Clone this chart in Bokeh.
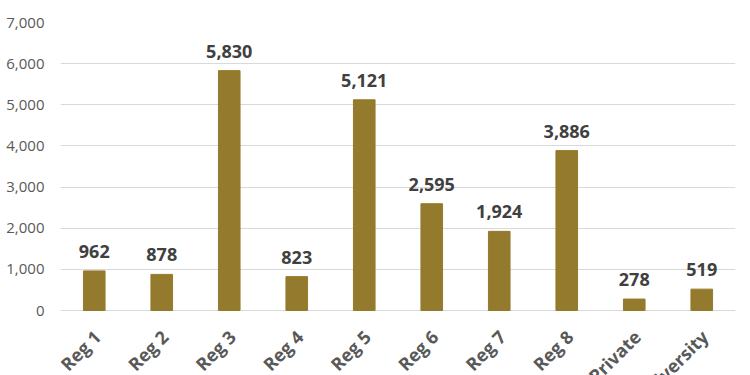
import math
from bokeh.plotting import figure
from bokeh.models import ColumnDataSource, NumeralTickFormatter, FixedTicker, LabelSet, Range1d
from bokeh.core.properties import value
from bokeh.embed import file_html
from bokeh.resources import INLINE

categories = ["Reg 1", "Reg 2", "Reg 3", "Reg 4", "Reg 5", "Reg 6", "Reg 7", "Reg 8", "Private", "University"]
values = [962, 878, 5830, 823, 5121, 2595, 1924, 3886, 278, 519]
y_ticks = [0, 1000, 2000, 3000, 4000, 5000, 6000, 7000]

labels = [f"{v:,}" for v in values]
zeros = [0] * len(categories)
src = ColumnDataSource(dict(cat=categories, val=values, lab=labels, zero=zeros))

H = 375
TOP = 22
ZERO_Y = 310  # pixel row of the zero line
y_max = 7000
y_min = -y_max * (H - ZERO_Y) / (ZERO_Y - TOP)

p = figure(x_range=categories, y_range=Range1d(y_min, y_max), width=742, height=H,
           output_backend="svg", toolbar_location=None,
           min_border_left=60, min_border_right=7, min_border_top=TOP, min_border_bottom=0)
p.outline_line_color = None
p.background_fill_color = "white"

p.vbar(x="cat", top="val", bottom=0, width=0.32, source=src, color="#947A2C")

lbl = LabelSet(x="cat", y="val", text="lab", source=src, text_align="center",
               text_baseline="alphabetic", y_offset=13, text_font=value("Open Sans"),
               text_font_size="18px", text_font_style="bold", text_color="#404040")
p.add_layout(lbl)

cat_lbl = LabelSet(x="cat", y="zero", text="cat", source=src, text_align="right",
                   text_baseline="middle", angle=math.pi / 4, x_offset=3, y_offset=-23,
                   text_font=value("Open Sans"), text_font_size="18px",
                   text_font_style="bold", text_color="#595959")
p.add_layout(cat_lbl)

p.yaxis.ticker = FixedTicker(ticks=y_ticks)
p.yaxis.formatter = NumeralTickFormatter(format="0,0")
p.yaxis.axis_line_color = None
p.yaxis.major_tick_line_color = None
p.yaxis.minor_tick_line_color = None
p.yaxis.major_tick_out = 0
p.yaxis.major_tick_in = 0
p.yaxis.major_label_text_font = "Open Sans"
p.yaxis.major_label_text_font_size = "15px"
p.yaxis.major_label_text_color = "#595959"
p.yaxis.major_label_standoff = 16

p.xaxis.visible = False

p.xgrid.grid_line_color = None
p.ygrid.grid_line_color = "#d9d9d9"
p.ygrid.grid_line_width = 1

open("out.html", "w").write(file_html(p, INLINE))
